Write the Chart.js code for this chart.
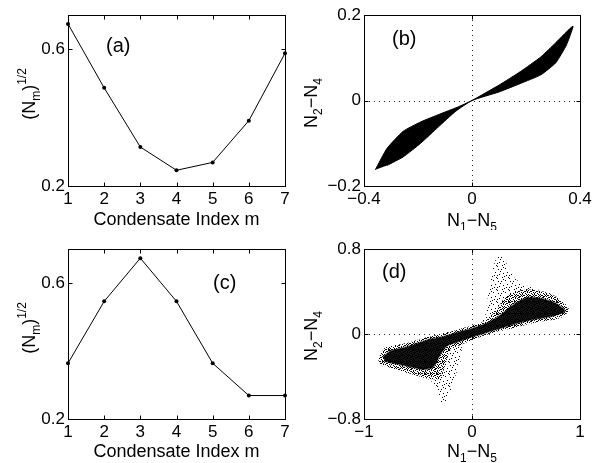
<!DOCTYPE html>
<html><head><meta charset="utf-8">
<script src="https://cdn.jsdelivr.net/npm/chart.js@4/dist/chart.umd.min.js"></script>
<style>
html,body{margin:0;padding:0;background:#fff;width:605px;height:463px;overflow:hidden}
canvas{position:absolute}
</style></head><body>
<canvas id="ca" width="300" height="230" style="left:0;top:0"></canvas>
<canvas id="cb" width="305" height="230" style="left:300px;top:0"></canvas>
<canvas id="cc" width="300" height="233" style="left:0;top:230px"></canvas>
<canvas id="cd" width="305" height="233" style="left:300px;top:230px"></canvas>
<script>
// ---------------- data ----------------
const condensateIndex = [1, 2, 3, 4, 5, 6, 7];
const amplitudeA = [0.674, 0.487, 0.314, 0.246, 0.269, 0.391, 0.588];
const amplitudeC = [0.364, 0.546, 0.673, 0.546, 0.364, 0.269, 0.269];
const xTicksAC = [1, 2, 3, 4, 5, 6, 7];
const yTicksAC = [0.2, 0.6];
const xTicksB = [-0.4, 0, 0.4];
const yTicksB = [-0.2, 0, 0.2];
const xTicksD = [-1, 0, 1];
const yTicksD = [-0.8, 0, 0.8];
// (b) outline of the dense trajectory band (N1-N5 , N2-N4)
const bandBX = [-0.358, -0.315, -0.255, -0.190, -0.120, -0.055, 0.000, 0.100, 0.180, 0.255, 0.310, 0.374, 0.350, 0.310, 0.255, 0.180, 0.100, 0.000, -0.060, -0.125, -0.190, -0.255, -0.315];
const bandBY = [-0.162, -0.112, -0.072, -0.050, -0.032, -0.016, 0.000, 0.036, 0.068, 0.102, 0.135, 0.174, 0.130, 0.088, 0.060, 0.040, 0.020, 0.000, -0.025, -0.062, -0.100, -0.132, -0.152];
// (d) outer envelope of the sparse scatter cloud
const cloudDX = [-0.855, -0.808, -0.607, -0.361, -0.144, 0.041, 0.118, 0.148, 0.180, 0.226, 0.287, 0.333, 0.411, 0.565, 0.750, 0.889, 0.812, 0.627, 0.411, 0.226, 0.071, -0.083, -0.098, -0.144, -0.206, -0.253, -0.283, -0.330, -0.422, -0.577, -0.731, -0.839];
const cloudDY = [-0.226, -0.132, -0.085, -0.016, 0.040, 0.088, 0.166, 0.354, 0.542, 0.715, 0.730, 0.636, 0.511, 0.433, 0.370, 0.229, 0.166, 0.135, 0.072, 0.025, -0.028, -0.085, -0.226, -0.367, -0.555, -0.665, -0.649, -0.493, -0.414, -0.352, -0.305, -0.273];
// (d) medium-density fringe around the core
const fringeDX = [-0.870, -0.820, -0.620, -0.420, -0.270, -0.110, 0.000, 0.130, 0.220, 0.300, 0.400, 0.520, 0.660, 0.800, 0.900, 0.820, 0.600, 0.400, 0.220, 0.070, -0.100, -0.200, -0.250, -0.300, -0.400, -0.550, -0.720, -0.850];
const fringeDY = [-0.240, -0.150, -0.090, -0.030, 0.000, 0.050, 0.080, 0.130, 0.220, 0.340, 0.400, 0.420, 0.400, 0.340, 0.230, 0.150, 0.110, 0.060, 0.020, -0.030, -0.100, -0.150, -0.300, -0.420, -0.420, -0.380, -0.330, -0.290];
// (d) dense core of the scatter cloud
const coreDX = [-0.820, -0.750, -0.607, -0.422, -0.269, -0.114, 0.000, 0.133, 0.256, 0.380, 0.504, 0.627, 0.760, 0.860, 0.740, 0.565, 0.380, 0.226, 0.071, 0.000, -0.114, -0.237, -0.299, -0.361, -0.454, -0.577, -0.700, -0.810];
const coreDY = [-0.215, -0.160, -0.125, -0.060, -0.028, 0.020, 0.050, 0.098, 0.170, 0.270, 0.340, 0.335, 0.295, 0.215, 0.170, 0.138, 0.092, 0.044, -0.004, -0.025, -0.066, -0.112, -0.200, -0.310, -0.330, -0.305, -0.280, -0.255];

// ---------------- helpers ----------------
const FONT = '"Liberation Sans", Arial, Helvetica, sans-serif';
const TICK_SIZE = 17, TITLE_SIZE = 18, SMALL_SIZE = 12, PANEL_SIZE = 20;
const pts = (xs, ys) => xs.map((x, i) => ({x, y: ys[i]}));
const fmt = v => (v < 0 ? '\u2212' + String(Math.abs(v)) : String(v));

function drawRich(ctx, segs, cx, baseY, rotate) {
  ctx.save();
  ctx.translate(cx, baseY);
  if (rotate) ctx.rotate(-Math.PI / 2);
  let total = 0;
  const w = segs.map(s => {
    ctx.font = (s.sub || s.sup ? SMALL_SIZE : TITLE_SIZE) + 'px ' + FONT;
    const m = ctx.measureText(s.t).width;
    total += m; return m;
  });
  let x = -total / 2;
  ctx.fillStyle = '#000';
  ctx.textBaseline = 'alphabetic';
  ctx.textAlign = 'left';
  segs.forEach((s, i) => {
    ctx.font = (s.sub || s.sup ? SMALL_SIZE : TITLE_SIZE) + 'px ' + FONT;
    const dy = s.sub ? 5 : (s.sup ? -9 : 0);
    ctx.fillText(s.t, x, dy);
    x += w[i];
  });
  ctx.restore();
}

const deco = {
  id: 'deco',
  beforeDatasetsDraw(chart, args, o) {
    if (!o.zeroLines) return;
    const {ctx, chartArea: a, scales: {x, y}} = chart;
    ctx.save();
    ctx.strokeStyle = '#222'; ctx.lineWidth = 1; ctx.setLineDash([1, 4]);
    const px = Math.round(x.getPixelForValue(0)) + 0.5;
    const py = Math.round(y.getPixelForValue(0)) + 0.5;
    ctx.beginPath(); ctx.moveTo(px, a.top); ctx.lineTo(px, a.bottom); ctx.stroke();
    ctx.beginPath(); ctx.moveTo(a.left, py); ctx.lineTo(a.right, py); ctx.stroke();
    ctx.restore();
  },
  afterDraw(chart, args, o) {
    const {ctx, chartArea: a, scales: {x, y}} = chart;
    ctx.save();
    ctx.strokeStyle = '#000'; ctx.lineWidth = 1;
    const l = Math.round(a.left) + 0.5, r = Math.round(a.right) + 0.5;
    const t = Math.round(a.top) + 0.5, b = Math.round(a.bottom) + 0.5;
    ctx.strokeRect(l, t, r - l, b - t);
    const L = 4;
    ctx.beginPath();
    x.ticks.forEach(tk => {
      const p = Math.round(x.getPixelForValue(tk.value)) + 0.5;
      ctx.moveTo(p, b); ctx.lineTo(p, b - L);
      ctx.moveTo(p, t); ctx.lineTo(p, t + L);
    });
    y.ticks.forEach(tk => {
      const p = Math.round(y.getPixelForValue(tk.value)) + 0.5;
      ctx.moveTo(l, p); ctx.lineTo(l + L, p);
      ctx.moveTo(r, p); ctx.lineTo(r - L, p);
    });
    ctx.stroke();
    ctx.restore();
    const cx = (a.left + a.right) / 2;
    drawRich(ctx, o.xTitle, cx + (o.xTitleDx || 0), o.xTitleY, false);
    drawRich(ctx, o.yTitle, o.yTitleX, o.yTitleCY, true);
    ctx.save();
    ctx.font = PANEL_SIZE + 'px ' + FONT;
    ctx.fillStyle = '#000'; ctx.textBaseline = 'middle'; ctx.textAlign = 'left';
    ctx.fillText(o.panel[0], o.panel[1], o.panel[2]);
    ctx.restore();
  }
};

function scales(xmin, xmax, xt, ymin, ymax, yt, leftW, bottomH) {
  const tickOpts = {color: '#000', font: {family: FONT, size: TICK_SIZE}, autoSkip: false, maxRotation: 0, callback: v => fmt(v)};
  return {
    x: {type: 'linear', min: xmin, max: xmax,
        afterBuildTicks: s => { s.ticks = xt.map(v => ({value: v})); },
        afterFit: s => { s.height = bottomH; },
        grid: {display: false, drawTicks: false}, border: {display: false},
        ticks: Object.assign({padding: 3}, tickOpts)},
    y: {type: 'linear', min: ymin, max: ymax,
        afterBuildTicks: s => { s.ticks = yt.map(v => ({value: v})); },
        afterFit: s => { s.width = leftW; },
        grid: {display: false, drawTicks: false}, border: {display: false},
        ticks: Object.assign({padding: 3}, tickOpts)}
  };
}

const base = (pad) => ({
  responsive: false, animation: false, devicePixelRatio: 1,
  layout: {padding: pad},
  plugins: {legend: {display: false}, tooltip: {enabled: false}}
});

function stipple(canvasId, size, dots) {
  const c = document.createElement('canvas'); c.width = c.height = size;
  const g = c.getContext('2d'); g.fillStyle = '#000';
  dots.forEach(([dx, dy]) => g.fillRect(dx, dy, 1, 1));
  return document.getElementById(canvasId).getContext('2d').createPattern(c, 'repeat');
}

const NM = [{t: '(N'}, {t: 'm', sub: true}, {t: ')'}, {t: '1/2', sup: true}];
const CIM = [{t: 'Condensate Index m'}];
const N15 = [{t: 'N'}, {t: '1', sub: true}, {t: '\u2212N'}, {t: '5', sub: true}];
const N24 = [{t: 'N'}, {t: '2', sub: true}, {t: '\u2212N'}, {t: '4', sub: true}];

// ---------------- (a) ----------------
(function () {
  const o = base({top: 15, right: 15, left: 0, bottom: 0});
  o.scales = scales(1, 7, xTicksAC, 0.2, 0.7, yTicksAC, 68, 44);
  o.plugins.deco = {xTitle: CIM, xTitleY: 225, yTitle: NM, yTitleX: 35, yTitleCY: 94, panel: ['(a)', 106, 46]};
  new Chart(document.getElementById('ca'), {
    type: 'scatter',
    data: {datasets: [{data: pts(condensateIndex, amplitudeA), showLine: true, borderColor: '#000', borderWidth: 1,
      pointRadius: 2, pointBackgroundColor: '#000', pointBorderWidth: 0, clip: 4}]},
    options: o, plugins: [deco]
  });
})();

// ---------------- (c) ----------------
(function () {
  const o = base({top: 19, right: 15, left: 0, bottom: 0});
  o.scales = scales(1, 7, xTicksAC, 0.2, 0.7, yTicksAC, 68, 44);
  o.plugins.deco = {xTitle: CIM, xTitleY: 227, yTitle: NM, yTitleX: 35, yTitleCY: 98, panel: ['(c)', 213, 53]};
  new Chart(document.getElementById('cc'), {
    type: 'scatter',
    data: {datasets: [{data: pts(condensateIndex, amplitudeC), showLine: true, borderColor: '#000', borderWidth: 1,
      pointRadius: 2, pointBackgroundColor: '#000', pointBorderWidth: 0, clip: 4}]},
    options: o, plugins: [deco]
  });
})();

// ---------------- (b) ----------------
(function () {
  const o = base({top: 15, right: 25, left: 0, bottom: 0});
  o.scales = scales(-0.4, 0.4, xTicksB, -0.2, 0.2, yTicksB, 64, 44);
  o.plugins.deco = {zeroLines: true, xTitle: N15, xTitleY: 226, yTitle: N24, yTitleX: 17, yTitleCY: 103, panel: ['(b)', 92, 39]};
  new Chart(document.getElementById('cb'), {
    type: 'scatter',
    data: {datasets: [{data: pts(bandBX, bandBY), showLine: true, fill: 'shape', tension: 0.15,
      backgroundColor: '#000', borderColor: '#000', borderWidth: 1, pointRadius: 0}]},
    options: o, plugins: [deco]
  });
})();

// ---------------- (d) ----------------
(function () {
  const o = base({top: 19, right: 25, left: 0, bottom: 0});
  o.scales = scales(-1, 1, xTicksD, -0.8, 0.8, yTicksD, 64, 44);
  o.plugins.deco = {zeroLines: true, xTitle: N15, xTitleY: 227, yTitle: N24, yTitleX: 17, yTitleCY: 106, panel: ['(d)', 82, 42]};
  const light = stipple('cd', 12, [[1,2],[5,0],[9,3],[3,6],[7,8],[11,7],[0,10],[4,11],[8,5],[10,11],[2,9],[6,3],[11,1],[5,9]]);
  const medium = stipple('cd', 6, [[0,0],[2,1],[4,0],[1,2],[3,3],[5,2],[0,4],[2,5],[4,4],[5,5],[1,5],[3,1]]);
  new Chart(document.getElementById('cd'), {
    type: 'scatter',
    data: {datasets: [
      {data: pts(coreDX, coreDY), showLine: true, fill: 'shape', tension: 0.25,
       backgroundColor: 'rgba(0,0,0,0.92)', borderColor: 'rgba(0,0,0,0.5)', borderWidth: 2, pointRadius: 0},
      {data: pts(fringeDX, fringeDY), showLine: true, fill: 'shape', tension: 0.25,
       backgroundColor: medium, borderColor: 'rgba(0,0,0,0)', borderWidth: 0, pointRadius: 0},
      {data: pts(cloudDX, cloudDY), showLine: true, fill: 'shape', tension: 0.25,
       backgroundColor: light, borderColor: 'rgba(0,0,0,0)', borderWidth: 0, pointRadius: 0}
    ]},
    options: o, plugins: [deco]
  });
})();
</script>
</body></html>
